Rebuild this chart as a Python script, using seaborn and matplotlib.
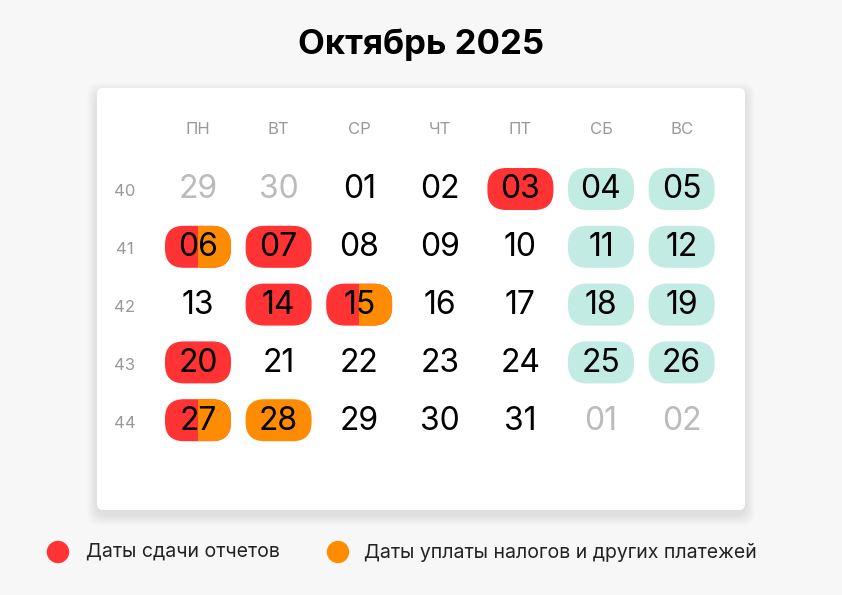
import numpy as np
import matplotlib
matplotlib.use("Agg")
import matplotlib.pyplot as plt
import seaborn as sns
from matplotlib.patches import FancyBboxPatch, Rectangle

sns.set_style("white")
plt.rcParams['font.family'] = ['Inter', 'DejaVu Sans']

# данные
title = "Октябрь 2025"
weekdays = ["ПН", "ВТ", "СР", "ЧТ", "ПТ", "СБ", "ВС"]
week_numbers = ["40", "41", "42", "43", "44"]
day_labels = [
    ["29", "30", "01", "02", "03", "04", "05"],
    ["06", "07", "08", "09", "10", "11", "12"],
    ["13", "14", "15", "16", "17", "18", "19"],
    ["20", "21", "22", "23", "24", "25", "26"],
    ["27", "28", "29", "30", "31", "01", "02"],
]
other_month = [(0, 0), (0, 1), (4, 5), (4, 6)]
report_days = [(0, 4), (1, 0), (1, 1), (2, 1), (2, 2), (3, 0), (4, 0)]
payment_days = [(1, 0), (2, 2), (4, 0), (4, 1)]
weekend_cols = [5, 6]
legend_labels = ["Даты сдачи отчетов", "Даты уплаты налогов и других платежей"]

RED = "#ff3333"
ORANGE = "#ff8c00"
TEAL = "#c2ebe3"
BG = "#f7f7f7"

fig = plt.figure(figsize=(8.42, 5.95), dpi=100, facecolor=BG)
ax = fig.add_axes([0, 0, 1, 1])
ax.set_xlim(0, 842)
ax.set_ylim(595, 0)
ax.axis('off')
ax.set_facecolor(BG)

# карточка с мягкой тенью
for k in range(8):
    pad = 2 + k * 2.5
    ax.add_patch(FancyBboxPatch((97 - pad / 2, 88 + 5 - pad / 2), 648 + pad, 422 + pad,
                                boxstyle="round,pad=0,rounding_size=12", fc="black",
                                ec="none", alpha=0.012, zorder=1))
ax.add_patch(FancyBboxPatch((97, 88), 648, 422, boxstyle="round,pad=0,rounding_size=6",
                            fc="white", ec="none", zorder=2))

ax.text(421, 45, title, ha='center', va='center', fontsize=25, fontweight='bold', color='black')

x0, dx = 198, 80.6
y0, dy = 189, 57.8
pw, ph = 66, 42

for j, wd in enumerate(weekdays):
    ax.text(x0 + j * dx, 129, wd, ha='center', va='center', fontsize=12, color='#999999', zorder=5)

for i, wn in enumerate(week_numbers):
    ax.text(125, y0 + i * dy + 3, wn, ha='center', va='center', fontsize=12, color='#999999', zorder=5)


def pill(cx, cy, color, half=None):
    p = FancyBboxPatch((cx - pw / 2, cy - ph / 2), pw, ph,
                       boxstyle="round,pad=0,rounding_size=19", fc=color, ec="none", zorder=3)
    ax.add_patch(p)
    if half is not None:
        clip = Rectangle((cx, cy - ph / 2), pw / 2, ph, transform=ax.transData)
        p.set_clip_path(clip)


for i, row in enumerate(day_labels):
    for j, d in enumerate(row):
        cx, cy = x0 + j * dx, y0 + i * dy
        r, p = (i, j) in report_days, (i, j) in payment_days
        if r and p:
            pill(cx, cy, RED)
            pill(cx, cy, ORANGE, half='right')
        elif r:
            pill(cx, cy, RED)
        elif p:
            pill(cx, cy, ORANGE)
        elif j in weekend_cols and (i, j) not in other_month:
            pill(cx, cy, TEAL)
        color = '#bbbbbb' if (i, j) in other_month else 'black'
        ax.text(cx, cy + 1, d, ha='center', va='center', fontsize=23, color=color, zorder=5)

# легенда
sns.scatterplot(x=[58, 338], y=[552, 552], hue=legend_labels, palette=[RED, ORANGE],
                s=260, edgecolor='none', legend=False, ax=ax, zorder=5)
ax.text(86, 552, legend_labels[0], ha='left', va='center', fontsize=14, color='#222222')
ax.text(364, 552, legend_labels[1], ha='left', va='center', fontsize=14, color='#222222')
ax.set_xlim(0, 842)
ax.set_ylim(595, 0)

fig.savefig("out.png", dpi=100, facecolor=BG)
